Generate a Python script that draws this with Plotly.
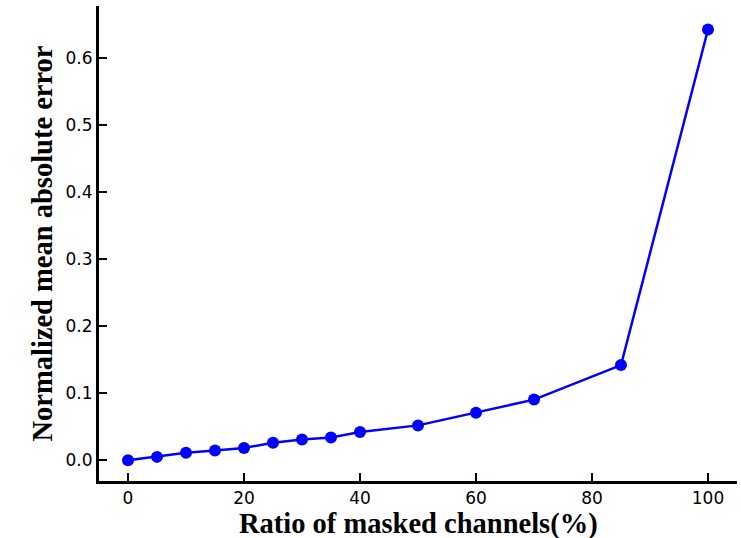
import plotly.graph_objects as go

ratio = [0, 5, 10, 15, 20, 25, 30, 35, 40, 50, 60, 70, 85, 100]
nmae = [0.0, 0.005, 0.011, 0.0145, 0.0184, 0.026, 0.031, 0.034, 0.042, 0.052, 0.071, 0.0905, 0.142, 0.643]

x_ticks = [0, 20, 40, 60, 80, 100]
y_ticks = [0.0, 0.1, 0.2, 0.3, 0.4, 0.5, 0.6]

fig = go.Figure()
fig.add_trace(go.Scatter(
    x=ratio, y=nmae, mode="lines+markers",
    line=dict(color="#0000ff", width=2.5),
    marker=dict(color="#0000ff", size=12),
    showlegend=False,
))

tick_font = dict(family="DejaVu Sans", size=17, color="black")
title_font = dict(family="Liberation Serif", size=28.5, color="black")

fig.update_layout(
    width=741, height=538,
    margin=dict(l=99, r=4, t=6, b=57),
    paper_bgcolor="white", plot_bgcolor="white",
    xaxis=dict(
        range=[-5, 105], tickvals=x_ticks, ticktext=[str(v) for v in x_ticks],
        showgrid=False, zeroline=False, automargin=False,
        showline=True, linecolor="black", linewidth=3,
        ticks="inside", ticklen=8, tickwidth=2, tickcolor="black",
        tickfont=tick_font,
    ),
    yaxis=dict(
        range=[-0.031, 0.678], tickvals=y_ticks, ticktext=[f"{v:.1f}" for v in y_ticks],
        showgrid=False, zeroline=False, automargin=False,
        showline=True, linecolor="black", linewidth=3,
        ticks="inside", ticklen=8, tickwidth=2, tickcolor="black",
        tickfont=tick_font,
        title=dict(text="<b>Normalized mean absolute error</b>", font=title_font, standoff=5),
    ),
    annotations=[dict(
        text="<b>Ratio of masked channels(%)</b>", font=title_font,
        xref="paper", yref="paper", x=0.5, y=0, xanchor="center", yanchor="top",
        yshift=-26, showarrow=False, borderpad=0,
    )],
)

fig.write_html("out.html")
